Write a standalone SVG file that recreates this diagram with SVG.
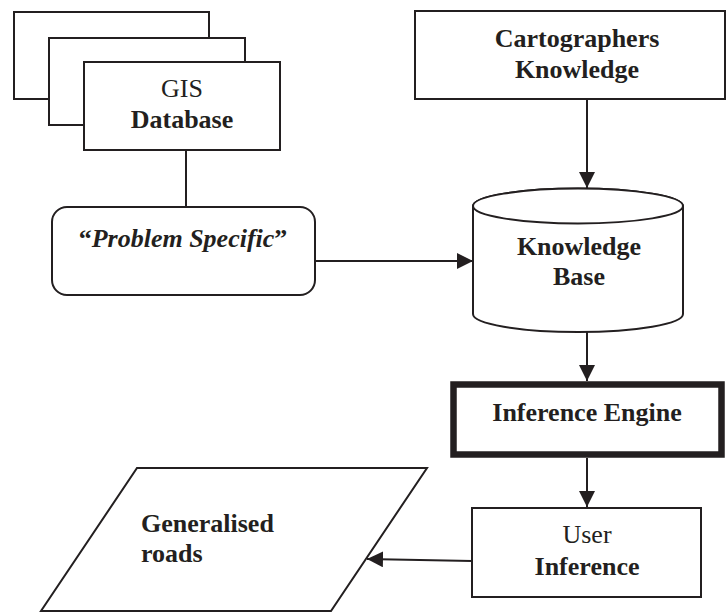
<svg xmlns="http://www.w3.org/2000/svg" width="727" height="613" viewBox="0 0 727 613">
<style>
.s{fill:#fff;stroke:#231f20;stroke-width:2}
.t{font-family:"Liberation Serif","Times New Roman",serif;font-size:26px;fill:#231f20;text-anchor:middle}
.b{font-weight:bold}
.c{stroke:#231f20;stroke-width:2;fill:none}
</style>
<defs>
<marker id="ah" viewBox="0 0 16 16" refX="16" refY="8" markerWidth="16" markerHeight="16" markerUnits="userSpaceOnUse" orient="auto">
<path d="M0,0 L16,8 L0,16 Z" fill="#231f20"/>
</marker>
</defs>
<rect width="727" height="613" fill="#fff"/>
<g id="gis-database">
<rect class="s" x="14" y="12" width="195" height="87"/>
<rect class="s" x="49" y="38" width="196" height="87"/>
<rect class="s" x="84" y="62" width="196" height="88"/>
<text class="t" x="182" y="97">GIS</text>
<text class="t b" x="182" y="128">Database</text>
</g>
<g id="problem-specific">
<rect class="s" x="52" y="207" width="263" height="88" rx="15"/>
<text class="t b" x="183" y="247">“<tspan font-style="italic">Problem Specific</tspan>”</text>
</g>
<g id="cartographers-knowledge">
<rect class="s" x="415" y="11" width="310" height="88"/>
<text class="t b" x="577" y="47">Cartographers</text>
<text class="t b" x="577" y="78">Knowledge</text>
</g>
<g id="knowledge-base">
<path class="s" d="M473,206 L473,314 A105,18 0 0 0 683,314 L683,206 A105,17.5 0 0 0 473,206 Z"/>
<ellipse class="s" cx="578" cy="206" rx="105" ry="17.5"/>
<text class="t b" x="579" y="255">Knowledge</text>
<text class="t b" x="579" y="285">Base</text>
</g>
<g id="inference-engine">
<rect x="453.5" y="384.5" width="268" height="70" fill="#fff" stroke="#231f20" stroke-width="6.5"/>
<text class="t b" x="587" y="421">Inference Engine</text>
</g>
<g id="user-inference">
<rect class="s" x="472" y="508" width="229" height="89"/>
<text class="t" x="587" y="543">User</text>
<text class="t b" x="587" y="575">Inference</text>
</g>
<g id="generalised-roads">
<path class="s" d="M137,468 L427,468 L331,611 L41,611 Z"/>
<text class="t b" x="141" y="532" text-anchor="start" style="text-anchor:start">Generalised</text>
<text class="t b" x="141" y="562" style="text-anchor:start">roads</text>
</g>
<g id="connectors">
<line class="c" x1="186" y1="150" x2="186" y2="206"/>
<line class="c" x1="315" y1="261" x2="473" y2="261" marker-end="url(#ah)"/>
<line class="c" x1="587" y1="99" x2="587" y2="188" marker-end="url(#ah)"/>
<line class="c" x1="587" y1="332" x2="587" y2="381" marker-end="url(#ah)"/>
<line class="c" x1="587" y1="458" x2="587" y2="507" marker-end="url(#ah)"/>
<line class="c" x1="472" y1="561" x2="367" y2="559" marker-end="url(#ah)"/>
</g>
</svg>
